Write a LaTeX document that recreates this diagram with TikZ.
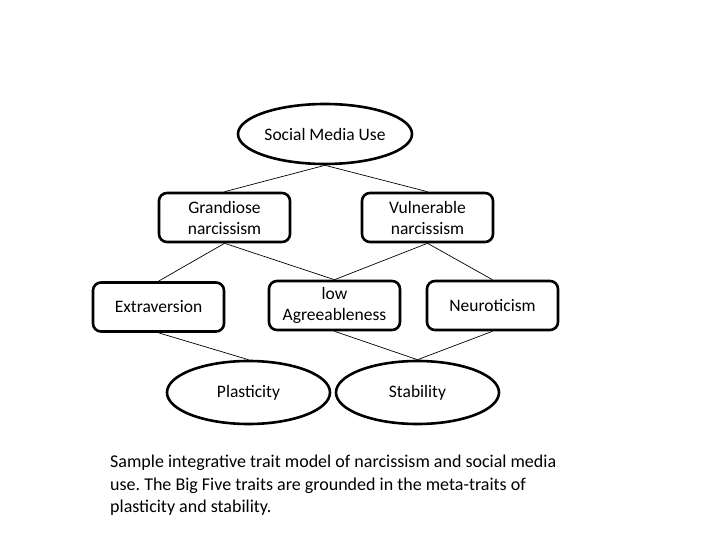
\documentclass[tikz,border=0pt]{standalone}
\usepackage{fontspec}
\setmainfont{Carlito}
\usetikzlibrary{shapes.geometric}

\begin{document}
\begin{tikzpicture}[x=1pt, y=-1pt,
	trait/.style={draw, line width=2.6pt, rounded corners=8pt, minimum width=131pt, minimum height=49pt, align=center, inner sep=2pt, font=\fontsize{17.5}{21}\selectfont},
	meta/.style={draw, line width=2.6pt, ellipse, inner sep=1pt, font=\fontsize{17.5}{21}\selectfont},
	link/.style={line width=0.7pt}]
	\useasboundingbox (0,0) rectangle (720,540);
	\node[meta, minimum width=134pt, minimum height=60pt] (smu) at (325,134) {Social Media Use};
	\node[trait] (grand) at (224.5,217.5) {Grandiose\\narcissism};
	\node[trait] (vuln) at (427.5,217.5) {Vulnerable\\narcissism};
	\node[trait] (extra) at (158.5,307) {Extraversion};
	\node[trait] (agree) at (334.5,305.5) {low\\Agreeableness};
	\node[trait] (neuro) at (492.5,305.5) {Neuroticism};
	\node[meta, minimum width=163pt, minimum height=63pt] (plast) at (248.5,392.5) {Plasticity};
	\node[meta, minimum width=163pt, minimum height=63pt] (stab) at (417.5,392.5) {Stability};
	
	\draw[link] (smu.south) -- (grand.north);
	\draw[link] (smu.south) -- (vuln.north);
	\draw[link] (grand.south) -- (extra.north);
	\draw[link] (grand.south) -- (agree.north);
	\draw[link] (vuln.south) -- (agree.north);
	\draw[link] (vuln.south) -- (neuro.north);
	\draw[link] (extra.south) -- (plast.north);
	\draw[link] (agree.south) -- (stab.north);
	\draw[link] (neuro.south) -- (stab.north);
	
	\node[anchor=north west, align=left, inner sep=0pt, font=\fontsize{18}{22.5}\selectfont\frenchspacing] (caption) at (110,455)
		{Sample integrative trait model of narcissism and social media\\use. The Big Five traits are grounded in the meta-traits of\\plasticity and stability.};
\end{tikzpicture}
\end{document}
